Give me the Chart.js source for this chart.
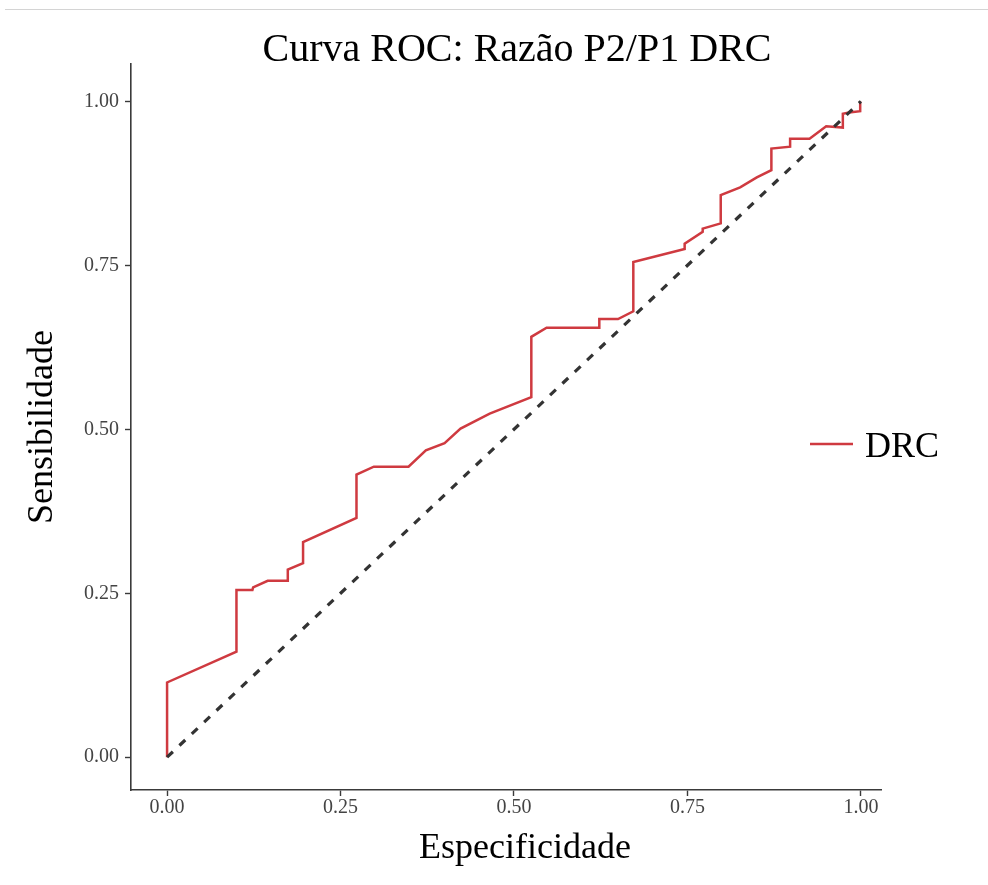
<!DOCTYPE html>
<html lang="pt">
<head>
<meta charset="utf-8">
<title>Curva ROC: Razão P2/P1 DRC</title>
<script src="https://cdn.jsdelivr.net/npm/chart.js"></script>
<style>
    html, body {
        margin: 0;
        padding: 0;
        background: #ffffff;
    }
    .frame-line {
        position: absolute;
        top: 9px;
        left: 5px;
        right: 0;
        border-top: 1px solid #d4d4d4;
    }
    .chart-box {
        position: relative;
        width: 988px;
        height: 885px;
    }
</style>
</head>
<body>
<div class="chart-box">
    <canvas id="rocChart"></canvas>
    <div class="frame-line"></div>
</div>
<script>
// Dados da curva ROC
const especificidade = [
    0, 0, 0.100, 0.100, 0.123, 0.124, 0.145, 0.174, 0.174, 0.196,
    0.196, 0.273, 0.273, 0.298, 0.348, 0.373, 0.400, 0.423, 0.465, 0.525,
    0.525, 0.547, 0.623, 0.623, 0.650, 0.672, 0.672, 0.746, 0.746, 0.772,
    0.772, 0.798, 0.798, 0.826, 0.850, 0.871, 0.871, 0.898, 0.898, 0.926,
    0.950, 0.974, 0.974, 0.983, 0.999, 0.999
];
const sensibilidade = [
    0, 0.114, 0.161, 0.255, 0.255, 0.259, 0.269, 0.269, 0.286, 0.296,
    0.328, 0.365, 0.431, 0.443, 0.443, 0.468, 0.479, 0.501, 0.524, 0.549,
    0.641, 0.655, 0.655, 0.668, 0.668, 0.680, 0.755, 0.775, 0.783, 0.801,
    0.806, 0.814, 0.857, 0.869, 0.884, 0.895, 0.928, 0.931, 0.943, 0.943,
    0.962, 0.960, 0.981, 0.983, 0.985, 1.000
];

// Linha de referência (diagonal)
const referenciaX = [0, 1];
const referenciaY = [0, 1];

// Marcas dos eixos
const ticksX = [0, 0.25, 0.5, 0.75, 1];
const ticksY = [0, 0.25, 0.5, 0.75, 1];

const serieNome = 'DRC';
const corSerie = '#cf3a40';
const fonteSerif = "'Liberation Serif', 'Times New Roman', serif";

// Títulos e legenda desenhados à mão para ficarem na mesma posição da figura
const textosPlugin = {
    id: 'textosPlugin',
    afterDraw(chart) {
        const ctx = chart.ctx;
        ctx.save();
        ctx.fillStyle = '#000000';
        ctx.textBaseline = 'alphabetic';
        ctx.textAlign = 'center';

        ctx.font = `40px ${fonteSerif}`;
        ctx.fillText('Curva ROC: Razão P2/P1 DRC', 517, 61);

        ctx.font = `36px ${fonteSerif}`;
        ctx.fillText('Especificidade', 525, 858);

        // Legenda
        ctx.strokeStyle = corSerie;
        ctx.lineWidth = 2.5;
        ctx.beginPath();
        ctx.moveTo(810, 444);
        ctx.lineTo(853, 444);
        ctx.stroke();

        ctx.textAlign = 'left';
        ctx.fillText(serieNome, 865, 457);
        ctx.restore();
    }
};

const eixoComum = {
    type: 'linear',
    border: {
        display: true,
        color: '#3a3a3a',
        width: 1.6
    },
    grid: {
        display: true,
        drawOnChartArea: false,
        drawTicks: true,
        tickLength: 6,
        tickColor: '#3a3a3a',
        tickWidth: 1.4
    },
    ticks: {
        color: '#444444',
        font: {
            family: fonteSerif,
            size: 20
        },
        callback: (value) => Number(value).toFixed(2)
    }
};

const ctx = document.getElementById('rocChart').getContext('2d');
const rocChart = new Chart(ctx, {
    type: 'scatter',
    data: {
        datasets: [
            {
                label: 'Referência',
                data: referenciaX.map((x, i) => ({ x: x, y: referenciaY[i] })),
                showLine: true,
                borderColor: '#333333',
                borderWidth: 3.2,
                borderDash: [8, 9],
                pointRadius: 0,
                tension: 0,
                fill: false
            },
            {
                label: serieNome,
                data: especificidade.map((x, i) => ({ x: x, y: sensibilidade[i] })),
                showLine: true,
                borderColor: corSerie,
                borderWidth: 2.5,
                pointRadius: 0,
                tension: 0,
                fill: false
            }
        ]
    },
    options: {
        responsive: true,
        maintainAspectRatio: false,
        animation: false,
        layout: {
            padding: {
                left: 0,
                right: 107,
                top: 64,
                bottom: 0
            }
        },
        plugins: {
            legend: { display: false },
            title: { display: false },
            tooltip: { enabled: false }
        },
        scales: {
            x: {
                ...eixoComum,
                min: -0.052,
                max: 1.029,
                ticks: { ...eixoComum.ticks, padding: 0 },
                afterBuildTicks: (scale) => {
                    scale.ticks = ticksX.map(v => ({ value: v }));
                },
                afterFit: (scale) => {
                    scale.height = 95;
                }
            },
            y: {
                ...eixoComum,
                min: -0.05,
                max: 1.057,
                ticks: { ...eixoComum.ticks, padding: 6 },
                title: {
                    display: true,
                    text: 'Sensibilidade',
                    color: '#000000',
                    font: {
                        family: fonteSerif,
                        size: 36
                    },
                    padding: { top: 21, bottom: 0 }
                },
                afterBuildTicks: (scale) => {
                    scale.ticks = ticksY.map(v => ({ value: v }));
                },
                afterFit: (scale) => {
                    scale.width = 131;
                }
            }
        }
    },
    plugins: [textosPlugin]
});
</script>
</body>
</html>
